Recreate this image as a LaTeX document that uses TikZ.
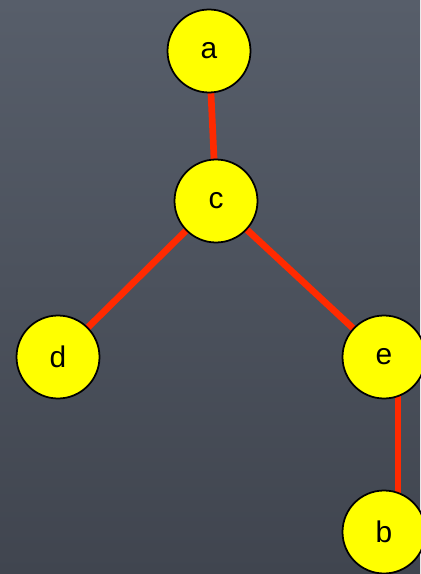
\documentclass[tikz,border=0pt]{standalone}
\usepackage{fontspec}
\setmainfont{Liberation Sans}
\usetikzlibrary{positioning, backgrounds}

\definecolor{slate top}{HTML}{575E6A}
\definecolor{slate bottom}{HTML}{40454F}
\definecolor{vtx fill}{HTML}{FFFF00}
\definecolor{edge red}{HTML}{FF2A00}

\pgfdeclarelayer{edges}
\pgfsetlayers{background,edges,main}

\tikzset{
  vtx/.style={circle, draw=black, line width=1pt, fill=vtx fill,
    minimum size=1.66cm, inner sep=0pt, font=\fontsize{17}{20}\selectfont},
  link/.style={draw=edge red, line width=3.8pt},
}

\begin{document}
\begin{tikzpicture}[x=0.02cm, y=-0.02cm]

% slate backdrop
\begin{pgfonlayer}{background}
\shade[top color=slate top, bottom color=slate bottom] (0,0) rectangle (420,574);
\end{pgfonlayer}
\useasboundingbox (0,0) rectangle (420,574);

\node[vtx] at (209,51) (a) {a};
\node[vtx] at (216,201) (c) {c};
\node[vtx] at (58,357) (d) {d};
\node[vtx] at (384,357) (e) {e};
\node[vtx] at (384,532) (b) {b};

\begin{pgfonlayer}{edges}
\draw[link] (a) -- (c);
\draw[link] (c.center) -- (d.center);
\draw[link] (c.center) -- (e.center);
\draw[link] ([xshift=8]e.center) -- ([xshift=8]b.center);
\end{pgfonlayer}

\end{tikzpicture}
\end{document}
